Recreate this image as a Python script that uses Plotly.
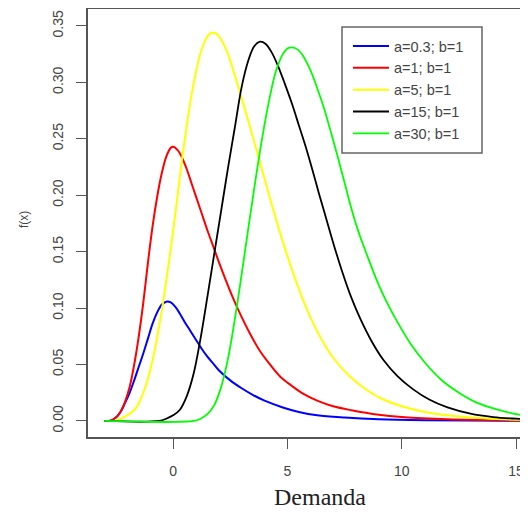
import plotly.graph_objects as go

# ---- data ----
names = ["a=0.3; b=1", "a=1; b=1", "a=5; b=1", "a=15; b=1", "a=30; b=1"]

blue_x = [-3, -2.7, -2.5, -2.3, -2.1, -1.9, -1.7, -1.5, -1.3, -1.1, -0.9, -0.7, -0.5, -0.3, -0.1, 0.1, 0.3, 0.5, 0.75, 1.0, 1.25, 1.5, 1.75, 2.0, 2.5, 3.0, 3.5, 4.0, 4.8, 5.5, 6.3, 7.5, 9.0, 11.0, 16.0]
blue_y = [0, 0.0005, 0.003, 0.008, 0.016, 0.025, 0.036, 0.048, 0.060, 0.073, 0.086, 0.096, 0.103, 0.1057, 0.105, 0.101, 0.095, 0.088, 0.080, 0.072, 0.064, 0.057, 0.051, 0.045, 0.036, 0.029, 0.023, 0.018, 0.012, 0.008, 0.005, 0.003, 0.0015, 0.0007, 0.0001]

red_x = [-3, -2.7, -2.5, -2.3, -2.1, -1.9, -1.7, -1.5, -1.3, -1.1, -0.9, -0.7, -0.5, -0.3, -0.1, 0.0, 0.2, 0.4, 0.6, 0.8, 1.0, 1.25, 1.5, 1.75, 2.0, 2.3, 2.6, 3.0, 3.4, 3.8, 4.2, 4.7, 5.2, 5.7, 6.3, 7.0, 7.8, 9.0, 10.0, 12.0, 16.0]
red_y = [0, 0.0005, 0.003, 0.008, 0.017, 0.030, 0.050, 0.075, 0.105, 0.140, 0.172, 0.198, 0.219, 0.234, 0.242, 0.243, 0.240, 0.233, 0.223, 0.211, 0.199, 0.184, 0.169, 0.155, 0.141, 0.125, 0.110, 0.092, 0.076, 0.062, 0.051, 0.039, 0.031, 0.024, 0.018, 0.013, 0.0095, 0.0055, 0.0035, 0.0015, 0.0003]

yellow_x = [-3, -2.6, -2.4, -2.2, -2.0, -1.8, -1.6, -1.4, -1.2, -1.0, -0.8, -0.6, -0.4, -0.2, 0.0, 0.2, 0.4, 0.6, 0.8, 1.0, 1.2, 1.4, 1.6, 1.75, 1.9, 2.1, 2.4, 2.7, 3.0, 3.4, 3.8, 4.2, 4.6, 5.0, 5.5, 6.0, 6.5, 7.0, 7.7, 8.5, 9.2, 10.0, 11.0, 12.0, 13.3, 14.5, 16.0]
yellow_y = [0, 0, 0.001, 0.003, 0.005, 0.008, 0.012, 0.020, 0.031, 0.045, 0.063, 0.085, 0.110, 0.138, 0.168, 0.200, 0.233, 0.262, 0.288, 0.309, 0.326, 0.337, 0.343, 0.344, 0.343, 0.338, 0.325, 0.306, 0.286, 0.258, 0.229, 0.200, 0.172, 0.146, 0.117, 0.092, 0.072, 0.056, 0.040, 0.027, 0.019, 0.013, 0.008, 0.005, 0.0027, 0.0015, 0.0008]

black_x = [-3, -0.6, -0.3, 0.0, 0.3, 0.6, 0.9, 1.2, 1.5, 1.8, 2.1, 2.4, 2.7, 3.0, 3.3, 3.55, 3.8, 4.05, 4.3, 4.6, 4.9, 5.2, 5.5, 5.8, 6.1, 6.4, 6.7, 7.0, 7.4, 7.8, 8.2, 8.7, 9.2, 9.8, 10.5, 11.2, 12.0, 13.0, 14.0, 15.0, 16.0]
black_y = [0, 0, 0.002, 0.005, 0.010, 0.022, 0.042, 0.073, 0.110, 0.148, 0.186, 0.224, 0.260, 0.296, 0.320, 0.332, 0.336, 0.334, 0.327, 0.314, 0.298, 0.281, 0.262, 0.243, 0.222, 0.200, 0.179, 0.158, 0.132, 0.109, 0.090, 0.070, 0.054, 0.040, 0.028, 0.019, 0.012, 0.0065, 0.0035, 0.002, 0.001]

green_x = [-3, 0.9, 1.2, 1.5, 1.8, 2.1, 2.4, 2.7, 3.0, 3.3, 3.6, 3.9, 4.2, 4.5, 4.8, 5.0, 5.2, 5.45, 5.7, 6.0, 6.3, 6.6, 6.9, 7.2, 7.5, 7.8, 8.1, 8.5, 8.9, 9.3, 9.8, 10.4, 11.0, 11.7, 12.5, 13.3, 14.2, 15.0, 16.0]
green_y = [0, 0, 0.002, 0.006, 0.014, 0.030, 0.055, 0.090, 0.130, 0.172, 0.213, 0.251, 0.284, 0.310, 0.325, 0.330, 0.331, 0.329, 0.323, 0.311, 0.295, 0.277, 0.256, 0.234, 0.211, 0.188, 0.168, 0.146, 0.125, 0.107, 0.088, 0.068, 0.052, 0.037, 0.025, 0.016, 0.010, 0.006, 0.003]

x_ticks = [0, 5, 10, 15]
y_ticks = [0.00, 0.05, 0.10, 0.15, 0.20, 0.25, 0.30, 0.35]
y_tick_text = ["0.00", "0.05", "0.10", "0.15", "0.20", "0.25", "0.30", "0.35"]

series = [
    (names[0], blue_x, blue_y, "#0000FF", 2.0),
    (names[1], red_x, red_y, "#FF0000", 2.0),
    (names[2], yellow_x, yellow_y, "#FFFF00", 2.0),
    (names[3], black_x, black_y, "#000000", 1.8),
    (names[4], green_x, green_y, "#00FF00", 1.8),
]

fig = go.Figure()
for nm, xs, ys, col, w in series:
    fig.add_trace(go.Scatter(
        x=xs, y=ys, mode="lines", name=nm, legendgroup=nm,
        line=dict(color=col, width=w, shape="spline", smoothing=1.0),
        hoverinfo="skip",
    ))

# The page body has an 8px default margin, so the figure is sized/offset to compensate.
OFF = 8
FIG_W, FIG_H = 528 - OFF, 514 - OFF
PAGE_L, PAGE_T, plot_w, plot_h = 88, 9, 440, 428   # plot area in page pixels
plot_l, plot_t = PAGE_L - OFF, PAGE_T - OFF


def px_x(page_x):
    return (page_x - PAGE_L) / plot_w


def px_y(page_y):
    return (PAGE_T + plot_h - page_y) / plot_h


axis_col = "#555555"
txt_col = "#444444"
fig.update_layout(
    width=FIG_W, height=FIG_H,
    margin=dict(l=plot_l, r=FIG_W - plot_l - plot_w, t=plot_t, b=FIG_H - plot_t - plot_h),
    paper_bgcolor="white", plot_bgcolor="white",
    font=dict(family="Liberation Sans, Arial, sans-serif", size=14, color=txt_col),
    showlegend=True,
    legend=dict(
        x=px_x(348), y=px_y(30), xanchor="left", yanchor="top",
        borderwidth=0, bgcolor="rgba(0,0,0,0)",
        font=dict(size=14.5, color=txt_col),
        tracegroupgap=0, traceorder="grouped", itemwidth=36,
    ),
    xaxis=dict(
        range=[-3.72, 15.52], tickvals=x_ticks, ticks="outside", ticklen=10,
        tickcolor=axis_col, showline=True, linecolor=axis_col, linewidth=1.5,
        mirror=True, showgrid=False, zeroline=False,
        tickfont=dict(size=14, color=txt_col), ticklabelstandoff=10,
    ),
    yaxis=dict(
        range=[-0.0142, 0.365], tickvals=y_ticks, ticktext=y_tick_text,
        tickangle=-90, ticks="outside", ticklen=10, tickcolor=axis_col,
        showline=True, linecolor=axis_col, linewidth=1.5, mirror=False,
        showgrid=False, zeroline=False,
        tickfont=dict(size=14, color=txt_col), ticklabelstandoff=8,
    ),
    shapes=[
        dict(type="rect", xref="paper", yref="paper",
             x0=px_x(342), x1=px_x(482), y0=px_y(153), y1=px_y(27),
             line=dict(color="#666666", width=1.5), fillcolor="white", layer="above"),
    ],
    annotations=[
        dict(text="f(x)", x=px_x(24), y=px_y(220), xref="paper", yref="paper",
             xanchor="center", yanchor="middle", showarrow=False, textangle=-90,
             font=dict(size=12, color=txt_col)),
        dict(text="Demanda", x=px_x(320), y=px_y(497), xref="paper", yref="paper",
             xanchor="center", yanchor="middle", showarrow=False,
             font=dict(family="Liberation Serif, Times New Roman, serif", size=24, color="#222222")),
    ],
)

fig.write_html("out.html")
